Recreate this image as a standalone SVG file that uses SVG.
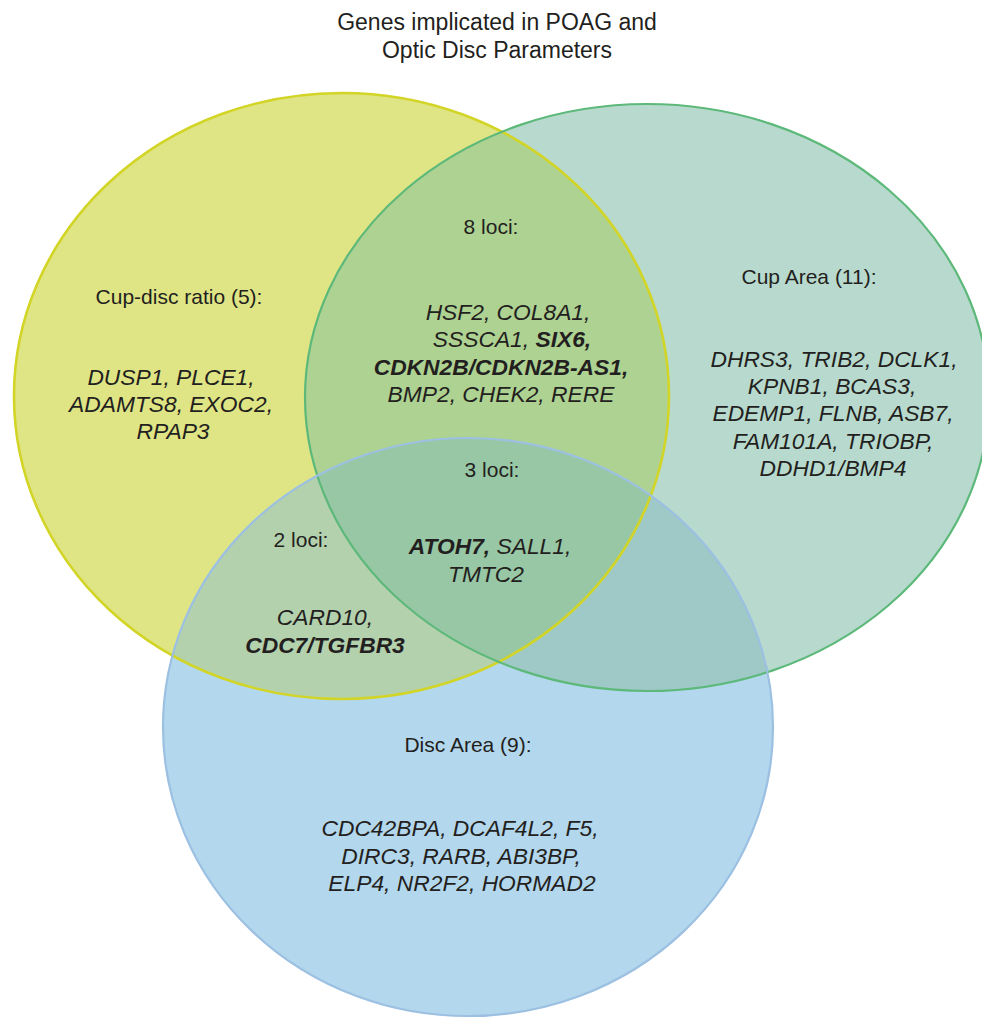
<svg xmlns="http://www.w3.org/2000/svg" width="982" height="1018" viewBox="0 0 982 1018">
  <style>
    text { font-family: "Liberation Sans", Arial, sans-serif; fill: #231f20; text-anchor: middle; }
    .title { font-size: 23px; }
    .lbl { font-size: 21px; }
    .gene { font-size: 22.8px; font-style: italic; }
    .b { font-weight: bold; }
    .edge { fill: none; }
  </style>
  <defs>
    <ellipse id="shapeCdr" cx="341.5" cy="396" rx="327.5" ry="303"/>
    <ellipse id="shapeCup" cx="647" cy="397.5" rx="342" ry="293.5"/>
    <ellipse id="shapeDisc" cx="468" cy="727" rx="305" ry="289"/>
    <clipPath id="clipCdr"><use href="#shapeCdr"/></clipPath>
    <clipPath id="clipCup"><use href="#shapeCup"/></clipPath>
  </defs>

  <!-- title -->
  <g id="title">
    <text class="title" x="497" y="30">Genes implicated in POAG and</text>
    <text class="title" x="497" y="58">Optic Disc Parameters</text>
  </g>

  <!-- region fills -->
  <g id="fills">
    <use href="#shapeCdr" fill="#dfe585"/>
    <use href="#shapeCup" fill="#b8dace"/>
    <use href="#shapeDisc" fill="#b3d7ec"/>
    <use href="#shapeCup" fill="#aed292" clip-path="url(#clipCdr)"/>
    <use href="#shapeDisc" fill="#b4d1ae" clip-path="url(#clipCdr)"/>
    <use href="#shapeDisc" fill="#9ec9c6" clip-path="url(#clipCup)"/>
    <g clip-path="url(#clipCdr)">
      <use href="#shapeDisc" fill="#98c7a5" clip-path="url(#clipCup)"/>
    </g>
  </g>

  <!-- outlines -->
  <g id="outlines" class="edge">
    <use href="#shapeCdr" fill="none" stroke="#d2d526" stroke-width="2.6"/>
    <use href="#shapeCup" fill="none" stroke="#5db97a" stroke-width="2.2"/>
    <use href="#shapeDisc" fill="none" stroke="#9cc0e2" stroke-width="2.2"/>
  </g>

  <g id="cup-disc-ratio">
    <text class="lbl" x="179" y="304">Cup-disc ratio (5):</text>
    <text class="gene" x="171" y="385">DUSP1, PLCE1,</text>
    <text class="gene" x="171" y="412">ADAMTS8, EXOC2,</text>
    <text class="gene" x="173" y="439">RPAP3</text>
  </g>

  <g id="cup-area">
    <text class="lbl" x="809" y="284">Cup Area (11):</text>
    <text class="gene" x="834" y="367">DHRS3, TRIB2, DCLK1,</text>
    <text class="gene" x="832" y="394">KPNB1, BCAS3,</text>
    <text class="gene" x="833" y="421">EDEMP1, FLNB, ASB7,</text>
    <text class="gene" x="833" y="449">FAM101A, TRIOBP,</text>
    <text class="gene" x="833" y="476">DDHD1/BMP4</text>
  </g>

  <g id="disc-area">
    <text class="lbl" x="468" y="752">Disc Area (9):</text>
    <text class="gene" x="460" y="836">CDC42BPA, DCAF4L2, F5,</text>
    <text class="gene" x="461" y="864">DIRC3, RARB, ABI3BP,</text>
    <text class="gene" x="462" y="891">ELP4, NR2F2, HORMAD2</text>
  </g>

  <g id="cdr-cup-overlap">
    <text class="lbl" x="491" y="234">8 loci:</text>
    <text class="gene" x="508" y="320">HSF2, COL8A1,</text>
    <text class="gene" x="512" y="347">SSSCA1, <tspan class="b">SIX6,</tspan></text>
    <text class="gene b" x="501" y="375">CDKN2B/CDKN2B-AS1,</text>
    <text class="gene" x="501" y="402">BMP2, CHEK2, RERE</text>
  </g>

  <g id="all-three-overlap">
    <text class="lbl" x="492" y="477">3 loci:</text>
    <text class="gene" x="490" y="554"><tspan class="b">ATOH7,</tspan> SALL1,</text>
    <text class="gene" x="486" y="582">TMTC2</text>
  </g>

  <g id="cdr-disc-overlap">
    <text class="lbl" x="301" y="547">2 loci:</text>
    <text class="gene" x="325" y="625">CARD10,</text>
    <text class="gene b" x="325" y="653">CDC7/TGFBR3</text>
  </g>
</svg>
